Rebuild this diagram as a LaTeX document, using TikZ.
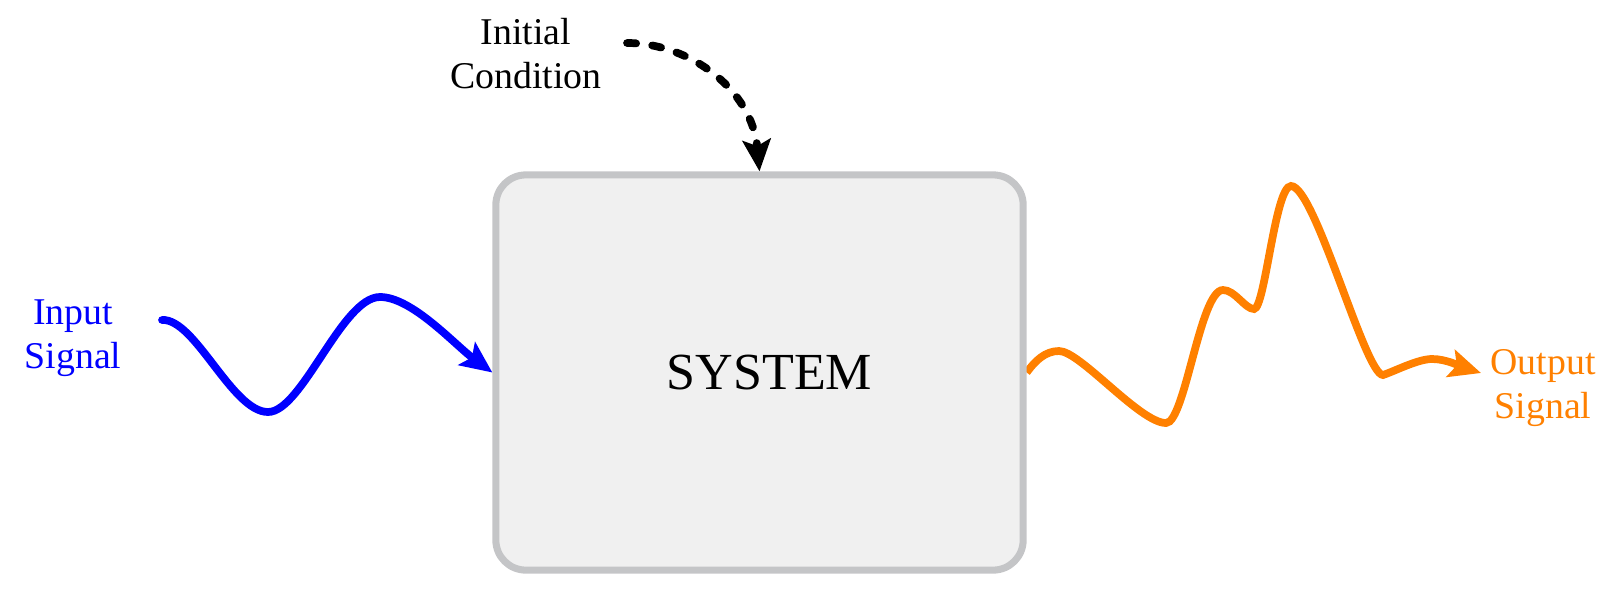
\documentclass[tikz,border=0pt]{standalone}
\usepackage{fontspec}
\setmainfont{Liberation Serif}
\usetikzlibrary{arrows.meta,backgrounds}
\definecolor{boxgray}{HTML}{C4C5C7}
\definecolor{boxfill}{HTML}{F0F0F0}
\definecolor{sigorange}{HTML}{FF8000}
\begin{document}
\begin{tikzpicture}[x=0.01cm,y=-0.01cm,
  lbl/.style={align=center,font=\fontsize{10.75}{12.5}\selectfont},
  sig/.style={line width=2.2pt,-{Stealth[length=9pt,width=8pt,inset=1.8pt]}}]
\useasboundingbox (0,0) rectangle (1613,600);
\node[draw=boxgray,fill=boxfill,line width=2pt,rounded corners=0.3cm,minimum width=5.27cm,minimum height=3.95cm,font=\fontsize{14.8}{17}\selectfont] (sys) at (759.5,372.5){\hspace{0.2cm}SYSTEM};
\node[lbl,text=blue] (in) at (73,338){Input\\Signal};
\node[lbl] (ic) at (526,54){Initial\\Condition};
\node[lbl,text=sigorange] (out) at (1543,388){Output\\Signal};
\coordinate (inStart) at (162,320);
\coordinate (icStart) at (627,43);
\coordinate (outEnd) at (1481,373);
\draw[sig,blue,line cap=round] (inStart) .. controls (195,318) and (232,412) .. (268,412)
  .. controls (302,412) and (342,297) .. (380,297)
  .. controls (412,297) and (455,345) .. (sys.west);
\draw[sig,line cap=round,dash pattern=on 2.6pt off 4.6pt] (icStart) .. controls (690,43) and (752,90) .. (sys.north);
\begin{scope}[on background layer]
\draw[sig,sigorange] (sys.east) .. controls (1035,361) and (1045,351) .. (1059,351)
  .. controls (1080,351) and (1140,423) .. (1166,423)
  .. controls (1185,423) and (1200,290) .. (1223,290)
  .. controls (1235,290) and (1245,309) .. (1254,309)
  .. controls (1265,309) and (1275,186) .. (1291,186)
  .. controls (1315,186) and (1365,375) .. (1383,375)
  .. controls (1395,371) and (1418,359) .. (1432,359)
  .. controls (1447,359) and (1462,367) .. (outEnd);
\end{scope}
\end{tikzpicture}
\end{document}
